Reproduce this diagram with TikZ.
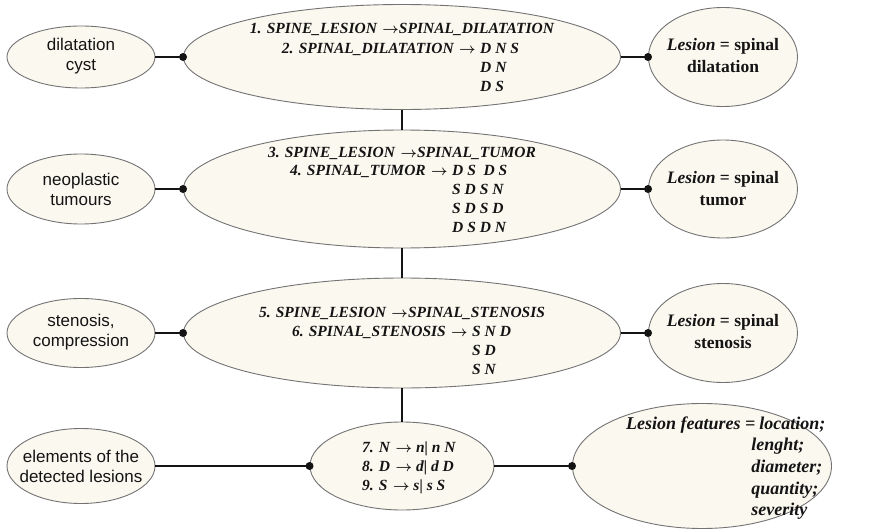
\documentclass[tikz,border=0pt]{standalone}
\usepackage{fontspec}
\setmainfont{Liberation Serif}
\setsansfont{Liberation Sans}
\usetikzlibrary{shapes.geometric}
\definecolor{cream}{RGB}{251,248,240}
\definecolor{rim}{RGB}{115,115,115}
\definecolor{ink}{RGB}{20,20,20}
\newcommand{\ar}{\kern.1em$\boldsymbol{\rightarrow}$}
\usepackage{amsmath}
\begin{document}
\begin{tikzpicture}[x=1pt,y=-1pt,
  ell/.style={ellipse, draw=rim, line width=0.9pt, fill=cream, inner sep=0pt},
  conn/.style={line width=1.8pt, draw=ink},
  side/.style={font=\sffamily\fontsize{17}{20}\selectfont, text=ink, align=center, inner sep=0pt},
  rule/.style={font=\bfseries\itshape\fontsize{15.5}{19}\selectfont, text=ink, inner sep=0pt},
  result/.style={font=\bfseries\fontsize{17.5}{22}\selectfont, text=ink, align=center, inner sep=0pt}]
\useasboundingbox (0,0) rectangle (871,530);

% ellipses
\node[ell, minimum width=148pt, minimum height=62pt] (L1) at (81,57) {};
\node[ell, minimum width=437pt, minimum height=105pt] (M1) at (402,57) {};
\node[ell, minimum width=149pt, minimum height=99pt] (R1) at (723,57) {};

\node[ell, minimum width=148pt, minimum height=70pt] (L2) at (81,189) {};
\node[ell, minimum width=437pt, minimum height=118pt] (M2) at (402,189) {};
\node[ell, minimum width=149pt, minimum height=98pt] (R2) at (723,189) {};

\node[ell, minimum width=148pt, minimum height=69pt] (L3) at (81,333) {};
\node[ell, minimum width=437pt, minimum height=110pt] (M3) at (402,333) {};
\node[ell, minimum width=149pt, minimum height=99pt] (R3) at (723,333) {};

\node[ell, minimum width=148pt, minimum height=75pt] (L4) at (81,466) {};
\node[ell, minimum width=184pt, minimum height=88pt] (M4) at (402,466) {};
\node[ell, minimum width=259pt, minimum height=125pt] (R4) at (702,466) {};

% connectors
\draw[conn] (L1.east) -- (M1.west);
\draw[conn] (M1.east) -- (R1.west);
\draw[conn] (L2.east) -- (M2.west);
\draw[conn] (M2.east) -- (R2.west);
\draw[conn] (L3.east) -- (M3.west);
\draw[conn] (M3.east) -- (R3.west);
\draw[conn] (L4.east) -- (M4.west);
\draw[conn] (M4.east) -- (R4.west);
\draw[conn] (M1.south) -- (M2.north);
\draw[conn] (M2.south) -- (M3.north);
\draw[conn] (M3.south) -- (M4.north);
\foreach \n in {M1,R1,M2,R2,M3,R3,M4,R4}{\fill[ink] (\n.west) circle (4pt);}

% left labels
\node[side] (tL1) at (81,56) {dilatation\\cyst};
\node[side] (tL2) at (81,189) {neoplastic\\tumours};
\node[side] (tL3) at (81,332) {stenosis,\\compression};
\node[side] (tL4) at (81,466) {elements of the\\detected lesions};

% right labels
\node[result] (tR1) at (723,56) {\textit{Lesion} = spinal\\dilatation};
\node[result] (tR2) at (723,189) {\textit{Lesion} = spinal\\tumor};
\node[result] (tR3) at (723,332) {\textit{Lesion} = spinal\\stenosis};

% grammar rules
\node[rule, anchor=base] (t1a) at (402,34) {1. SPINE\_LESION \ar SPINAL\_DILATATION};
\node[rule, anchor=base east] (t1b) at (476,53) {2. SPINAL\_DILATATION \ar};
\node[rule, anchor=base west] (t1c) at (480,53) {\begin{tabular}[t]{@{}l@{}}D N S\\D N\\D S\end{tabular}};

\node[rule, anchor=base] (t2a) at (402,157) {3. SPINE\_LESION \ar SPINAL\_TUMOR};
\node[rule, anchor=base east] (t2b) at (448,175) {4. SPINAL\_TUMOR \ar};
\node[rule, anchor=base west] (t2c) at (452,175) {\begin{tabular}[t]{@{}l@{}}D S\kern.5em D S\\S D S N\\S D S D\\D S D N\end{tabular}};

\node[rule, anchor=base] (t3a) at (402,317) {5. SPINE\_LESION \ar SPINAL\_STENOSIS};
\node[rule, anchor=base east] (t3b) at (468,336) {6. SPINAL\_STENOSIS \ar};
\node[rule, anchor=base west] (t3c) at (472,336) {\begin{tabular}[t]{@{}l@{}}S N D\\S D\\S N\end{tabular}};

\node[rule, anchor=base west] (t4) at (362,452) {\begin{tabular}[t]{@{}l@{}}7. N \ar\kern.25em n| n N\\8. D \ar\kern.25em d| d D\\9. S \ar\kern.25em s| s S\end{tabular}};

\node[rule, font=\bfseries\itshape\fontsize{18}{21.7}\selectfont, anchor=base west] (t4r) at (626,429) {\begin{tabular}[t]{@{}l@{}l@{}}Lesion features =\kern4pt & location;\\ & \hspace*{-8pt}lenght;\\ & \hspace*{-8pt}diameter;\\ & \hspace*{-8pt}quantity;\\ & \hspace*{-8pt}severity\end{tabular}};
\end{tikzpicture}
\end{document}
